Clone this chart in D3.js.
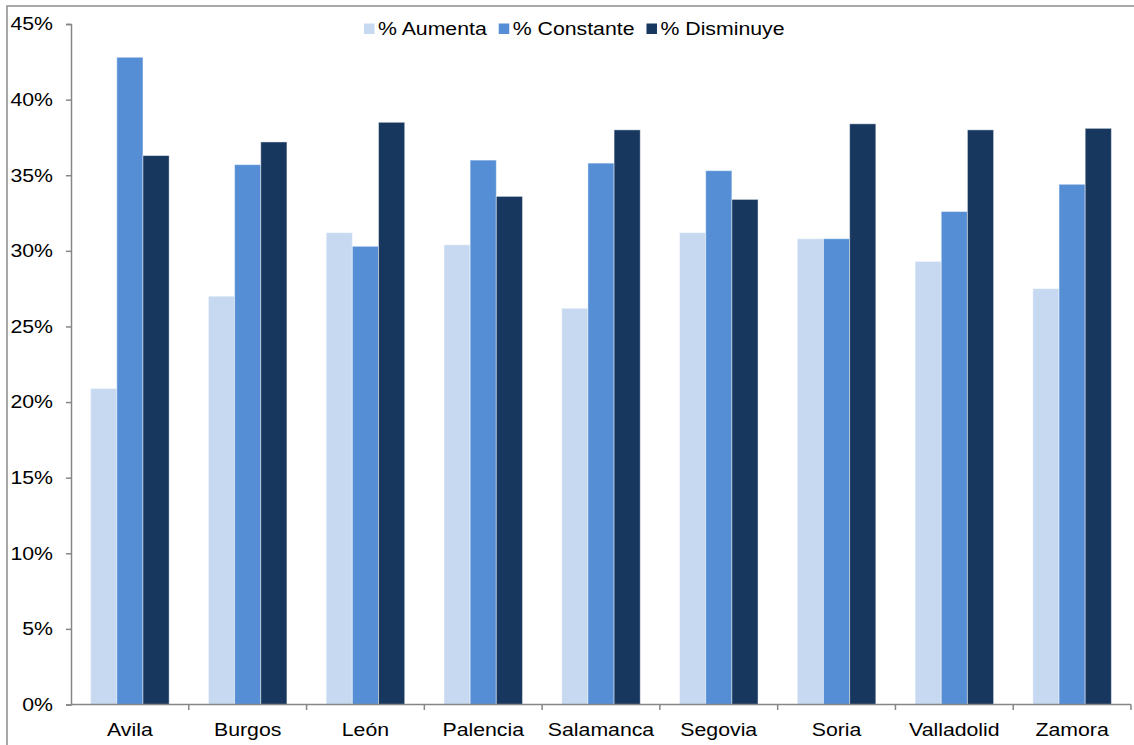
<!DOCTYPE html>
<html>
<head>
<meta charset="utf-8">
<script src="https://cdn.jsdelivr.net/npm/d3@7"></script>
<style>
  html, body { margin: 0; padding: 0; background: #fff; }
  svg { display: block; }
  text { font-family: "Liberation Sans", Arial, sans-serif; fill: #000; }
</style>
</head>
<body>
<svg id="chart" width="1134" height="745"></svg>
<script>
// Provinces and the share of answers per option (percent)
const provinces = ["Avila", "Burgos", "León", "Palencia", "Salamanca", "Segovia", "Soria", "Valladolid", "Zamora"];
const seriesNames = ["% Aumenta", "% Constante", "% Disminuye"];
const aumenta    = [20.9, 27.0, 31.2, 30.4, 26.2, 31.2, 30.8, 29.3, 27.5];
const constante  = [42.8, 35.7, 30.3, 36.0, 35.8, 35.3, 30.8, 32.6, 34.4];
const disminuye  = [36.3, 37.2, 38.5, 33.6, 38.0, 33.4, 38.4, 38.0, 38.1];
const yTicks = [0, 5, 10, 15, 20, 25, 30, 35, 40, 45];
const colors = ["#C6D9F1", "#558ED5", "#17375E"];

const seriesValues = [aumenta, constante, disminuye];
const rows = provinces.map((p, i) => ({
  province: p,
  values: seriesNames.map((s, k) => ({ key: s, value: seriesValues[k][i] }))
}));

const svg = d3.select("#chart");
const axisColor = "#868686";
const fontSize = "18.5px";
const stretch = 1.15; // the lettering is set slightly wide

// Outer chart frame (only top and left edges fall inside the canvas)
svg.append("rect")
  .attr("x", 7).attr("y", 6)
  .attr("width", 1200).attr("height", 800)
  .attr("fill", "none")
  .attr("stroke", "#8c8c8c")
  .attr("stroke-width", 1.5);

const plot = { left: 71, right: 1131, top: 24, bottom: 704.5 };

const x0 = d3.scaleBand()
  .domain(provinces)
  .range([plot.left, plot.right])
  .paddingInner(1 / 3)
  .paddingOuter(1 / 6);

const x1 = d3.scaleBand()
  .domain(seriesNames)
  .range([0, x0.bandwidth()]);

const y = d3.scaleLinear()
  .domain([0, 45])
  .range([plot.bottom, plot.top]);

const color = d3.scaleOrdinal().domain(seriesNames).range(colors);

// Bars
const groups = svg.append("g").selectAll("g")
  .data(rows)
  .join("g")
  .attr("transform", d => `translate(${x0(d.province)},0)`);

groups.selectAll("rect")
  .data(d => d.values)
  .join("rect")
  .attr("x", d => x1(d.key))
  .attr("y", d => y(d.value))
  .attr("width", x1.bandwidth())
  .attr("height", d => y(0) - y(d.value))
  .attr("fill", d => color(d.key))
  .attr("stroke", "rgba(255,255,255,0.45)")
  .attr("stroke-width", 1);

// Y axis
const yAxis = svg.append("g")
  .attr("transform", `translate(${plot.left},0)`)
  .call(d3.axisLeft(y).tickValues(yTicks).tickFormat(d => d + "%").tickSize(5).tickPadding(13));
yAxis.select(".domain").attr("stroke", axisColor).attr("stroke-width", 1.5);
yAxis.selectAll(".tick line").attr("stroke", axisColor).attr("stroke-width", 1.5);
yAxis.selectAll(".tick text")
  .attr("x", 0)
  .attr("transform", `translate(-18,0) scale(${stretch},1)`)
  .attr("font-size", fontSize)
  .attr("font-family", "'Liberation Sans', Arial, sans-serif")
  .attr("fill", "#000");

// X axis: ticks sit on the category boundaries
const boundaries = provinces.map(p => x0(p) - x0.step() * x0.paddingInner() / 2)
  .concat([plot.right]);
const xAxisG = svg.append("g");
xAxisG.append("line")
  .attr("x1", plot.left).attr("x2", plot.right)
  .attr("y1", y(0)).attr("y2", y(0))
  .attr("stroke", axisColor).attr("stroke-width", 1.5);
xAxisG.selectAll("line.tick")
  .data(boundaries.slice(1))
  .join("line")
  .attr("class", "tick")
  .attr("x1", d => d).attr("x2", d => d)
  .attr("y1", y(0)).attr("y2", y(0) + 5.5)
  .attr("stroke", axisColor).attr("stroke-width", 1.5);
xAxisG.selectAll("text")
  .data(provinces)
  .join("text")
  .attr("transform", d => `translate(${x0(d) + x0.bandwidth() / 2},736) scale(${stretch},1)`)
  .attr("text-anchor", "middle")
  .attr("font-size", fontSize)
  .text(d => d);

// Legend
const legend = svg.append("g").attr("transform", "translate(364,0)");
let lx = 0;
seriesNames.forEach(name => {
  const item = legend.append("g").attr("transform", `translate(${lx},0)`);
  item.append("rect")
    .attr("x", 0).attr("y", 23.5)
    .attr("width", 10.5).attr("height", 10.5)
    .attr("fill", color(name));
  const t = item.append("text")
    .attr("transform", `translate(14,34.5) scale(${stretch},1)`)
    .attr("font-size", fontSize)
    .text(name);
  lx += 14 + t.node().getComputedTextLength() * stretch + 12;
});
</script>
</body>
</html>
